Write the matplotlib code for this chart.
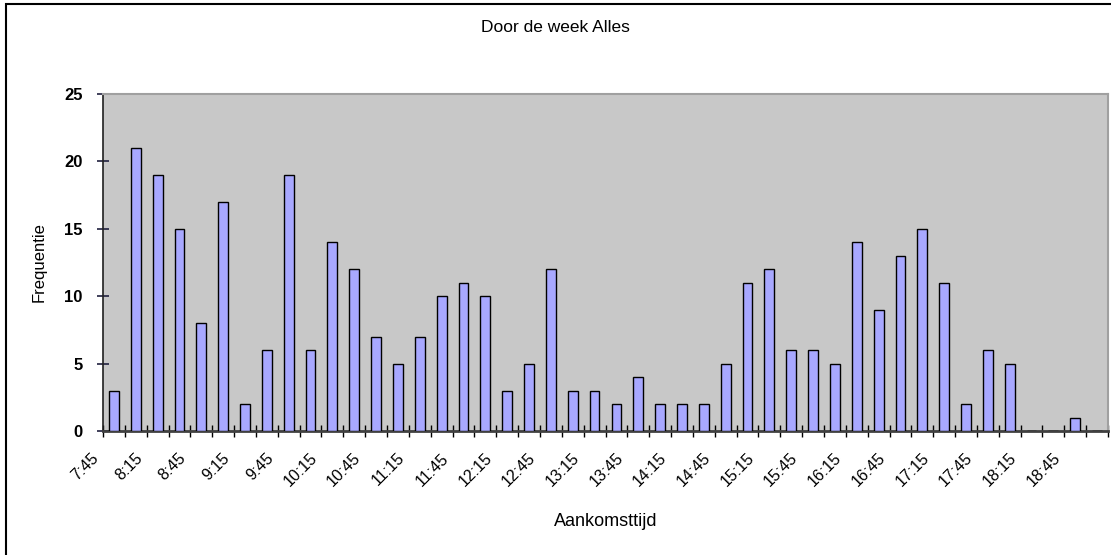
import matplotlib
matplotlib.use("Agg")
import matplotlib.pyplot as plt
from matplotlib.patches import Rectangle
from matplotlib.transforms import ScaledTranslation

categories = ["7:45", "8:00", "8:15", "8:30", "8:45", "9:00", "9:15", "9:30", "9:45", "10:00",
              "10:15", "10:30", "10:45", "11:00", "11:15", "11:30", "11:45", "12:00", "12:15", "12:30",
              "12:45", "13:00", "13:15", "13:30", "13:45", "14:00", "14:15", "14:30", "14:45", "15:00",
              "15:15", "15:30", "15:45", "16:00", "16:15", "16:30", "16:45", "17:00", "17:15", "17:30",
              "17:45", "18:00", "18:15", "18:30", "18:45", "19:00"]
frequencies = [3, 21, 19, 15, 8, 17, 2, 6, 19, 6,
               14, 12, 7, 5, 7, 10, 11, 10, 3, 5,
               12, 3, 3, 2, 4, 2, 2, 2, 5, 11,
               12, 6, 6, 5, 14, 9, 13, 15, 11, 2,
               6, 5, 0, 0, 1, 0]
y_ticks = [0, 5, 10, 15, 20, 25]

plt.rcParams['font.family'] = ['Liberation Sans', 'DejaVu Sans']

fig = plt.figure(figsize=(11.11, 5.55), dpi=100)
ax = fig.add_axes([103/1111, (555-431)/555, (1108-103)/1111, (431-94)/555])
ax.set_facecolor('#c8c8c8')

x = list(range(len(categories)))
ax.bar(x, frequencies, width=0.45, color='#a8a8ff', edgecolor='black', linewidth=1.0, zorder=3)

ax.set_xlim(-0.5, len(categories) - 0.5)
ax.set_ylim(0, 25)
ax.set_yticks(y_ticks)
ax.set_yticklabels([str(v) for v in y_ticks], fontsize=12, fontweight='bold')

ax.set_xticks([i + 0.5 for i in range(-1, len(categories))], minor=True)
ax.set_xticks(x[::2])
ax.set_xticklabels(categories[::2], rotation=45, ha='right', va='top',
                   rotation_mode='anchor', fontsize=11.5)
ax.tick_params(axis='x', which='major', length=0, pad=14)
ax.tick_params(axis='x', which='minor', direction='inout', length=9, width=1, color='black')
ax.tick_params(axis='y', direction='inout', length=9, width=1.2, color='#202040', pad=10)

offset = ScaledTranslation(-0.23, 0, fig.dpi_scale_trans)
for lbl in ax.get_xticklabels():
    lbl.set_transform(lbl.get_transform() + offset)

for s in ['top', 'right']:
    ax.spines[s].set_color('#a0a0a0')
    ax.spines[s].set_linewidth(1.5)
ax.spines['left'].set_color('#202020')
ax.spines['left'].set_linewidth(1.2)
ax.spines['bottom'].set_color('#404040')
ax.spines['bottom'].set_linewidth(2)

ax.set_ylabel('Frequentie', fontsize=12, labelpad=13)
ax.set_xlabel('Aankomsttijd', fontsize=13, labelpad=17)
fig.text(0.5, (555-28)/555, 'Door de week Alles', ha='center', va='center', fontsize=12.5)

fig.patches.append(Rectangle((6/1111, -0.1), 1.2, (555-4)/555 + 0.1, transform=fig.transFigure,
                             fill=False, edgecolor='black', linewidth=1.5))

fig.savefig('out.png', dpi=100)
